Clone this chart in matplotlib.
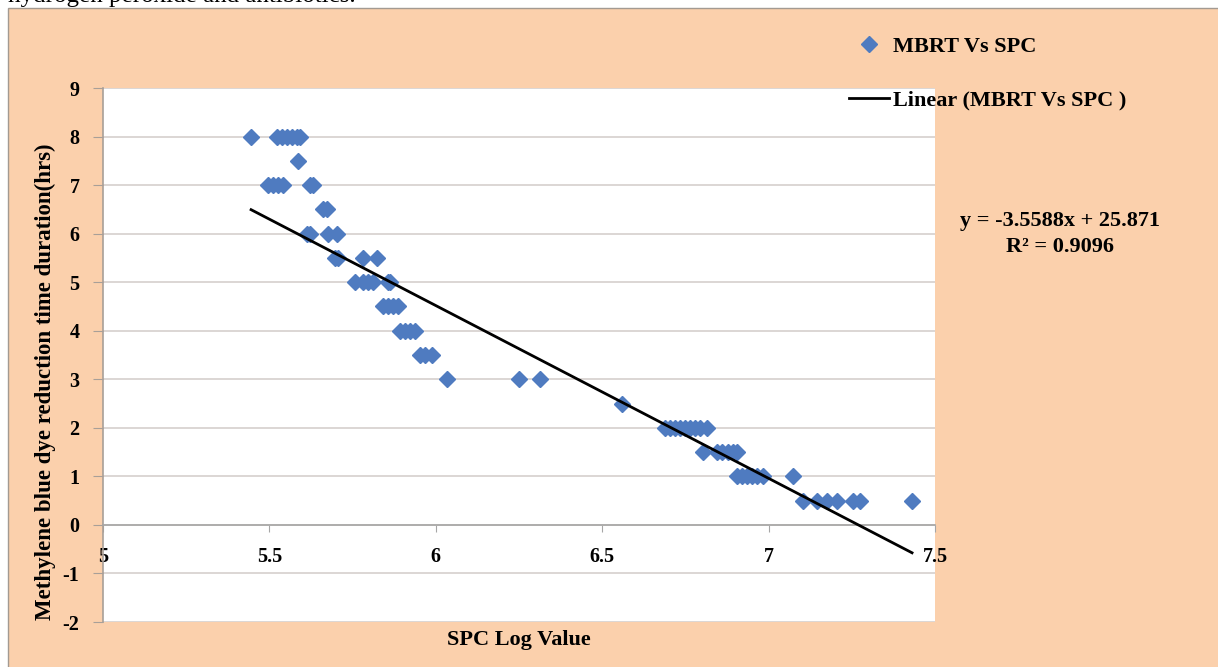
import matplotlib
matplotlib.use('Agg')
import matplotlib.pyplot as plt
import matplotlib.patches as patches
import numpy as np

plt.rcParams['font.family'] = ['Liberation Serif', 'DejaVu Serif']
plt.rcParams['font.weight'] = 'bold'
plt.rcParams['axes.unicode_minus'] = False

# SPC log value (x) and MBRT in hours (y)
spc_log = [5.445, 5.523, 5.537, 5.552, 5.567, 5.582, 5.592,
           5.586,
           5.496, 5.511, 5.526, 5.541, 5.622, 5.632,
           5.661, 5.672,
           5.612, 5.622, 5.676, 5.703,
           5.697, 5.705, 5.781, 5.822,
           5.757, 5.782, 5.796, 5.811, 5.856, 5.861,
           5.841, 5.856, 5.871, 5.886,
           5.892, 5.907, 5.922, 5.937,
           5.952, 5.967, 5.990,
           6.034, 6.250, 6.313,
           6.560,
           6.689, 6.704, 6.719, 6.734, 6.749, 6.764, 6.779, 6.794, 6.815,
           6.803, 6.845, 6.860, 6.878, 6.893, 6.905,
           6.905, 6.920, 6.935, 6.950, 6.965, 6.983, 7.073,
           7.103, 7.145, 7.175, 7.206, 7.254, 7.275, 7.431]
mbrt_hrs = [8]*7 + [7.5] + [7]*6 + [6.5]*2 + [6]*4 + [5.5]*4 + [5]*6 + \
           [4.5]*4 + [4]*4 + [3.5]*3 + [3]*3 + [2.5] + [2]*9 + [1.5]*6 + \
           [1]*7 + [0.5]*7

# linear trendline shown in the chart
slope = -3.5588
intercept = 25.871
r_squared = 0.9096

x_ticks = [5, 5.5, 6, 6.5, 7, 7.5]
x_tick_labels = ['5', '5.5', '6', '6.5', '7', '7.5']
y_ticks = list(range(-2, 10))

W, H = 1218, 667
fig = plt.figure(figsize=(W/100, H/100), dpi=100)
fig.patch.set_facecolor('white')

# peach chart area
bg = patches.Rectangle((8/W, -0.1), 1.2, 1 - 8/H + 0.1, transform=fig.transFigure,
                       facecolor='#FBD0AC', edgecolor='#A39A92', lw=1, zorder=0)
fig.add_artist(bg)

fig.text(8/W, 1 - 2/H, 'hydrogen peroxide and antibiotics.', fontsize=18,
         fontweight='normal', va='baseline', ha='left')

ax = fig.add_axes([103/W, 1 - 622/H, 832/W, 534/H])
ax.set_facecolor('white')

ax.plot(spc_log, mbrt_hrs, ls='none', marker='D', ms=8, color='#4F7BC0',
        label='MBRT Vs SPC', zorder=3)
fit_x = np.array([min(spc_log), max(spc_log)])
ax.plot(fit_x, slope*fit_x + intercept, color='black', lw=2,
        label='Linear (MBRT Vs SPC )', zorder=4)

ax.set_xlim(5, 7.5)
ax.set_ylim(-2, 9)
ax.set_xticks(x_ticks)
ax.set_xticklabels(x_tick_labels)
ax.set_yticks(y_ticks)

for s in ['top', 'right']:
    ax.spines[s].set_visible(False)
ax.spines['bottom'].set_position(('data', 0))
ax.spines['bottom'].set_color('#A6A6A6')
ax.spines['left'].set_color('#A89F98')
ax.spines['bottom'].set_linewidth(1.2)
ax.spines['left'].set_linewidth(1.2)

ax.yaxis.grid(True, color='#D6D0CD', lw=1.2)
ax.set_axisbelow(True)

ax.tick_params(axis='x', direction='out', length=5, color='#A6A6A6', pad=11, labelsize=14.5)
ax.tick_params(axis='y', direction='out', length=7, color='#A89F98', pad=10, labelsize=14.5)

ax.legend(loc='upper left', bbox_to_anchor=(849/W, 1 - 36/H), bbox_transform=fig.transFigure,
          frameon=False, fontsize=16, handlelength=1.8, handletextpad=0.2,
          labelspacing=1.5, borderpad=0, borderaxespad=0, numpoints=1)

fig.text(1060/W, 1 - 221/H, 'y = -3.5588x + 25.871', ha='center', va='center', fontsize=16)
fig.text(1060/W, 1 - 247/H, 'R² = %.4f' % r_squared, ha='center', va='center', fontsize=16)

fig.text(45/W, 1 - 382/H, 'Methylene blue dye reduction time duration(hrs)',
         rotation=90, ha='center', va='center', fontsize=16.5)
fig.text(519/W, 1 - 640/H, 'SPC Log Value', ha='center', va='center', fontsize=16)

fig.savefig('out.png', dpi=100)
